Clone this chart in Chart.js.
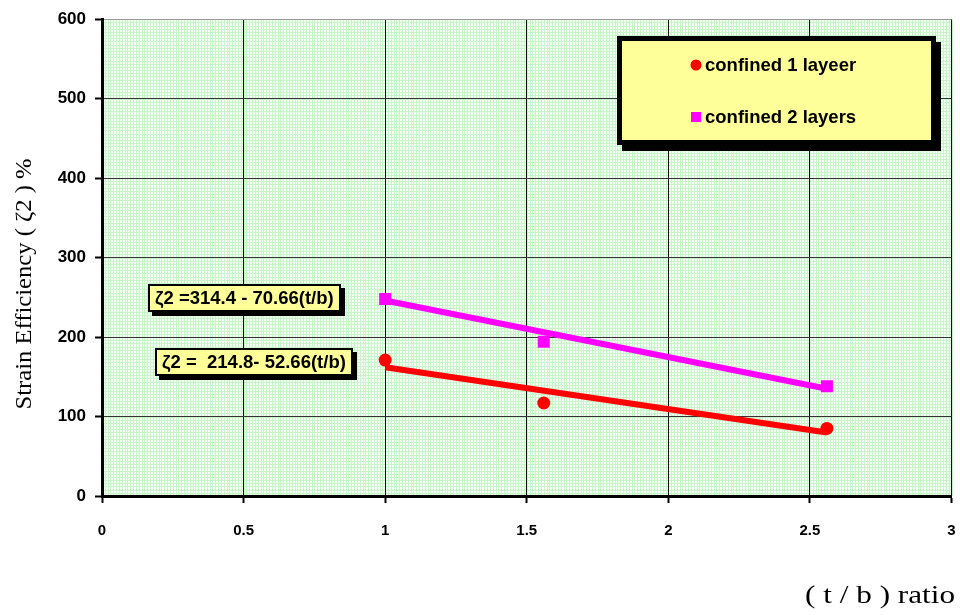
<!DOCTYPE html>
<html>
<head>
<meta charset="utf-8">
<script src="https://cdn.jsdelivr.net/npm/chart.js@4/dist/chart.umd.min.js"></script>
<style>
html, body { margin: 0; padding: 0; background: #fff; }
</style>
</head>
<body>
<canvas id="chart" width="960" height="615"></canvas>
<script>
// measured points, (t/b) ratio vs strain efficiency %
const tbOneLayer = [1.0, 1.56, 2.56];
const effOneLayer = [171, 117, 85];
const tbTwoLayers = [1.0, 1.56, 2.56];
const effTwoLayers = [248, 194, 138];

// end points of the fitted lines
const fitOneX = [1.0, 2.56];
const fitOneY = [162, 80];
const fitTwoX = [1.0, 2.56];
const fitTwoY = [246, 135];

const xTicks = [0, 0.5, 1, 1.5, 2, 2.5, 3];
const yTicks = [0, 100, 200, 300, 400, 500, 600];

const seriesNames = ['confined 1 layeer', 'confined 2 layers'];
const equations = ['ζ2 =314.4 - 70.66(t/b)', 'ζ2 =  214.8- 52.66(t/b)'];
const eqAnchorX = [0.162, 0.187];
const eqAnchorY = [267, 186];

const xTitle = '( t / b ) ratio';
const yTitle = 'Strain Efficiency ( ζ2 ) %';

const RED = '#ff0000';
const MAGENTA = '#ff00ff';
const YELLOW = '#ffff99';
const SERIF = '"Liberation Serif", "Times New Roman", serif';
const SANS = '"Liberation Sans", Arial, sans-serif';

const toPoints = (xs, ys) => xs.map((x, i) => ({ x: x, y: ys[i] }));

// pale green graph-paper background, follows the scales
const graphPaper = {
    id: 'graphPaper',
    beforeDraw(chart) {
        const { ctx, chartArea: a, scales: { x, y } } = chart;
        ctx.save();
        ctx.fillStyle = '#f3fff3';
        ctx.fillRect(a.left, a.top, a.right - a.left, a.bottom - a.top);
        ctx.strokeStyle = '#c9f3c9';
        ctx.lineWidth = 1;
        ctx.beginPath();
        for (let i = 0; i <= 300; i++) {
            const px = Math.round(x.getPixelForValue(i * 0.01)) + 0.5;
            ctx.moveTo(px, a.top);
            ctx.lineTo(px, a.bottom);
        }
        for (let j = 0; j <= 150; j++) {
            const py = Math.round(y.getPixelForValue(j * 4)) + 0.5;
            ctx.moveTo(a.left, py);
            ctx.lineTo(a.right, py);
        }
        ctx.stroke();
        ctx.restore();
    }
};

const equationBoxes = {
    id: 'equationBoxes',
    afterDatasetsDraw(chart) {
        const { ctx, scales: { x, y } } = chart;
        ctx.save();
        ctx.font = 'bold 18.5px ' + SANS;
        equations.forEach((text, i) => {
            const px = Math.round(x.getPixelForValue(eqAnchorX[i]));
            const py = Math.round(y.getPixelForValue(eqAnchorY[i]));
            const w = Math.round(ctx.measureText(text).width) + 14;
            const h = 28;
            ctx.fillStyle = '#000';
            ctx.fillRect(px + 4, py + 4, w, h);
            ctx.fillRect(px, py, w, h);
            ctx.fillStyle = YELLOW;
            ctx.fillRect(px + 2, py + 2, w - 4, h - 4);
            ctx.fillStyle = '#000';
            ctx.textBaseline = 'middle';
            ctx.textAlign = 'left';
            ctx.fillText(text, px + 7, py + h / 2 + 1);
        });
        ctx.restore();
    }
};

// the original axis titles are a slightly stretched Times face, drawn here by hand
const drawStretched = (ctx, text, x, y, rot, stretch, align) => {
    ctx.save();
    ctx.translate(x, y);
    ctx.rotate(rot);
    ctx.scale(stretch, 1);
    ctx.textAlign = align;
    ctx.textBaseline = 'alphabetic';
    ctx.fillText(text, 0, 0);
    ctx.restore();
};

const boxLegend = {
    id: 'boxLegend',
    afterDraw(chart) {
        const { ctx, chartArea } = chart;
        const w = 319, h = 109;
        const left = Math.round(chartArea.right) - 335;
        const top = Math.round(chartArea.top) + 17;
        ctx.save();
        ctx.fillStyle = '#000';
        ctx.fillRect(left + 5, top + 6, w, h);
        ctx.fillRect(left, top, w, h);
        ctx.fillStyle = YELLOW;
        ctx.fillRect(left + 5, top + 5, w - 10, h - 10);

        ctx.font = 'bold 18.5px ' + SANS;
        ctx.textBaseline = 'middle';
        ctx.textAlign = 'left';
        const rows = [top + 29, top + 81];
        chart.data.datasets.slice(0, 2).forEach((ds, i) => {
            const cx = left + 79, cy = rows[i];
            ctx.fillStyle = ds.backgroundColor;
            if (ds.pointStyle === 'rect') {
                ctx.fillRect(cx - 5, cy - 5, 10, 10);
            } else {
                ctx.beginPath();
                ctx.arc(cx, cy, 5.5, 0, Math.PI * 2);
                ctx.fill();
            }
            ctx.fillStyle = '#000';
            ctx.fillText(ds.label, left + 88, cy + 1);
        });

        ctx.fillStyle = '#000';
        ctx.font = '23px ' + SERIF;
        drawStretched(ctx, yTitle, 31, 284, -Math.PI / 2, 1.07, 'center');
        ctx.font = '26px ' + SERIF;
        drawStretched(ctx, xTitle, 955, 603, 0, 1.2, 'right');
        ctx.restore();
    }
};

const canvas = document.getElementById('chart');
new Chart(canvas, {
    type: 'scatter',
    data: {
        datasets: [
            {
                label: seriesNames[0],
                data: toPoints(tbOneLayer, effOneLayer),
                pointStyle: 'circle',
                pointRadius: 6.5,
                backgroundColor: RED,
                borderColor: RED,
                borderWidth: 0,
                order: 0,
            },
            {
                label: seriesNames[1],
                data: toPoints(tbTwoLayers, effTwoLayers),
                pointStyle: 'rect',
                pointRadius: 8.5,
                backgroundColor: MAGENTA,
                borderColor: MAGENTA,
                borderWidth: 0,
                order: 0,
            },
            {
                label: 'fit 1',
                data: toPoints(fitOneX, fitOneY),
                showLine: true,
                borderColor: RED,
                borderWidth: 6,
                pointRadius: 0,
                order: 1,
            },
            {
                label: 'fit 2',
                data: toPoints(fitTwoX, fitTwoY),
                showLine: true,
                borderColor: MAGENTA,
                borderWidth: 6,
                pointRadius: 0,
                order: 1,
            }
        ]
    },
    options: {
        responsive: false,
        animation: false,
        devicePixelRatio: 1,
        layout: {
            padding: { top: 15, right: 7, left: 0, bottom: 0 }
        },
        plugins: {
            legend: { display: false },
            tooltip: { enabled: false },
        },
        scales: {
            x: {
                type: 'linear',
                position: 'bottom',
                min: 0,
                max: 3,
                afterBuildTicks: scale => {
                    scale.ticks = xTicks.map(v => ({ value: v }));
                },
                afterFit: scale => {
                    scale.height = 119;
                    scale.paddingRight = 2;
                },
                ticks: {
                    color: '#000',
                    padding: 19,
                    font: { family: SANS, size: 15, weight: 'bold' },
                    callback: v => String(v),
                },
                grid: {
                    color: '#111',
                    lineWidth: 1,
                    tickLength: 7,
                    tickWidth: 2,
                    tickColor: '#000',
                },
                border: { width: 3, color: '#000' },
            },
            y: {
                type: 'linear',
                min: 0,
                max: 600,
                afterBuildTicks: scale => {
                    scale.ticks = yTicks.map(v => ({ value: v }));
                },
                afterFit: scale => {
                    scale.width = 102;
                },
                ticks: {
                    color: '#000',
                    padding: 9,
                    font: { family: SANS, size: 17, weight: 'bold' },
                    callback: v => String(v),
                },
                grid: {
                    color: ctx => ctx.tick && ctx.tick.value === 600 ? '#999' : '#333',
                    lineWidth: 1,
                    tickLength: 7,
                    tickWidth: 2,
                    tickColor: '#000',
                },
                border: { width: 3, color: '#000' },
            }
        }
    },
    plugins: [graphPaper, equationBoxes, boxLegend]
});
</script>
</body>
</html>
